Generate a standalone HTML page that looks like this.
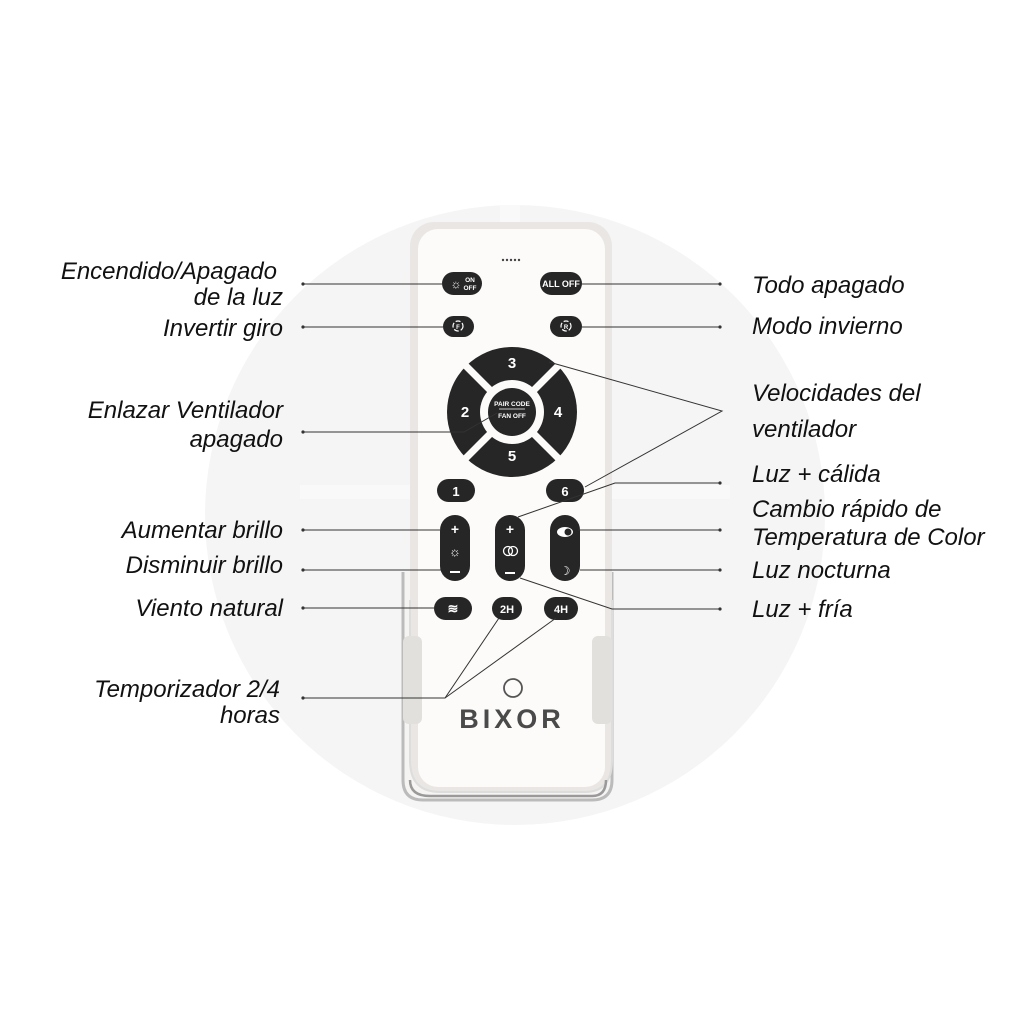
<!DOCTYPE html>
<html><head><meta charset="utf-8"><style>
html,body{margin:0;padding:0;background:#fff}
svg{display:block}
.l{font-family:"Liberation Sans",sans-serif;font-style:italic;font-size:24px;fill:#111}
.b{font-family:"Liberation Sans",sans-serif;font-weight:bold;fill:#fff}
</style></head><body>
<svg width="1024" height="1024" viewBox="0 0 1024 1024" xmlns="http://www.w3.org/2000/svg">
<rect width="1024" height="1024" fill="#fff"/>
<circle cx="515" cy="515" r="310" fill="#f5f5f5"/>
<rect x="500" y="205" width="20" height="90" fill="#f9f9f9"/>
<rect x="300" y="485" width="430" height="14" fill="#f9f9f9"/>
<path d="M403 572 V780 Q403 800 423 800 H592 Q612 800 612 780 V572" fill="#f6f4f2" stroke="#bbb" stroke-width="3"/>
<rect x="410" y="222" width="202" height="570" rx="24" fill="#e9e6e3"/>
<rect x="418" y="229" width="187" height="558" rx="20" fill="#fcfbfa"/>
<path d="M410 600 V760 Q410 792 440 792 H585 Q612 792 612 760 V600" fill="none" stroke="#ddd" stroke-width="2"/>
<rect x="403" y="636" width="19" height="88" rx="6" fill="#e2e0dd"/>
<rect x="592" y="636" width="20" height="88" rx="6" fill="#e2e0dd"/>
<path d="M410 780 Q410 796 430 796 H592 Q606 796 606 780" fill="none" stroke="#9a9a9a" stroke-width="2.5"/>
<g fill="#444"><circle cx="503" cy="260" r="1.2"/><circle cx="507" cy="260" r="1.2"/><circle cx="511" cy="260" r="1.2"/><circle cx="515" cy="260" r="1.2"/><circle cx="519" cy="260" r="1.2"/></g>
<g fill="#262626">
<rect x="442" y="272" width="40" height="23" rx="11.5"/>
<rect x="540" y="272" width="42" height="23" rx="11.5"/>
<rect x="443" y="316" width="31" height="21" rx="10.5"/>
<rect x="550" y="316" width="32" height="21" rx="10.5"/>
<rect x="437" y="479" width="38" height="23" rx="11.5"/>
<rect x="546" y="479" width="38" height="23" rx="11.5"/>
<rect x="440" y="515" width="30" height="66" rx="15"/>
<rect x="495" y="515" width="30" height="66" rx="15"/>
<rect x="550" y="515" width="30" height="66" rx="15"/>
<rect x="434" y="597" width="38" height="23" rx="11.5"/>
<rect x="492" y="597" width="30" height="23" rx="11.5"/>
<rect x="544" y="597" width="34" height="23" rx="11.5"/>
<circle cx="512" cy="412" r="65"/>
</g>
<circle cx="512" cy="412" r="32" fill="#fcfbfa"/>
<g stroke="#fcfbfa" stroke-width="7">
<line x1="460" y1="360" x2="564" y2="464"/><line x1="564" y1="360" x2="460" y2="464"/>
</g>
<circle cx="512" cy="412" r="24" fill="#262626"/>
<text class="b" x="512" y="368" font-size="15" text-anchor="middle">3</text>
<text class="b" x="512" y="461" font-size="15" text-anchor="middle">5</text>
<text class="b" x="465" y="417" font-size="15" text-anchor="middle">2</text>
<text class="b" x="558" y="417" font-size="15" text-anchor="middle">4</text>
<text class="b" x="512" y="406" font-size="6.5" text-anchor="middle">PAIR CODE</text>
<line x1="499" y1="409" x2="525" y2="409" stroke="#fff" stroke-width="0.8"/>
<text class="b" x="512" y="418" font-size="6.5" text-anchor="middle">FAN OFF</text>
<text class="b" x="456" y="496" font-size="13" text-anchor="middle">1</text>
<text class="b" x="565" y="496" font-size="13" text-anchor="middle">6</text>
<text class="b" x="561" y="287" font-size="9" text-anchor="middle">ALL OFF</text>
<text class="b" x="456" y="288" font-size="12" text-anchor="middle">☼</text>
<text class="b" x="470" y="282" font-size="6.5" text-anchor="middle">ON</text>
<text class="b" x="470" y="290" font-size="6.5" text-anchor="middle">OFF</text>
<circle cx="458" cy="326" r="5" fill="none" stroke="#fff" stroke-width="1.2" stroke-dasharray="5 2"/>
<text class="b" x="458" y="329" font-size="6" text-anchor="middle">F</text>
<circle cx="566" cy="326" r="5" fill="none" stroke="#fff" stroke-width="1.2" stroke-dasharray="5 2"/>
<text class="b" x="566" y="329" font-size="6" text-anchor="middle">R</text>
<text class="b" x="455" y="534" font-size="14" text-anchor="middle">+</text>
<text class="b" x="455" y="556" font-size="13" text-anchor="middle">☼</text>
<rect x="450" y="571" width="10" height="2" fill="#fff"/>
<text class="b" x="510" y="534" font-size="14" text-anchor="middle">+</text>
<circle cx="508" cy="551" r="4.5" fill="none" stroke="#fff" stroke-width="1.3"/>
<circle cx="513" cy="551" r="4.5" fill="none" stroke="#fff" stroke-width="1.3"/>
<rect x="505" y="572" width="10" height="2" fill="#fff"/>
<ellipse cx="565" cy="532" rx="8" ry="5" fill="#fff"/>
<circle cx="568" cy="532" r="3.5" fill="#262626"/>
<text x="565" y="575" font-size="12" text-anchor="middle" fill="#fff" font-family="DejaVu Sans">☽</text>
<text class="b" x="453" y="613" font-size="13" text-anchor="middle">≋</text>
<text class="b" x="507" y="613" font-size="11" text-anchor="middle">2H</text>
<text class="b" x="561" y="613" font-size="11" text-anchor="middle">4H</text>
<circle cx="513" cy="688" r="9" fill="none" stroke="#555" stroke-width="1.8"/>
<text x="512" y="728" font-family="Liberation Sans,sans-serif" font-weight="bold" font-size="27" letter-spacing="4" fill="#4a4a4a" text-anchor="middle">BIXOR</text>
<g stroke="#333" stroke-width="1" fill="none">
<line x1="303" y1="284" x2="443" y2="284"/>
<line x1="303" y1="327" x2="444" y2="327"/>
<polyline points="303,432 464,432 497,413"/>
<line x1="303" y1="530" x2="441" y2="530"/>
<line x1="303" y1="570" x2="441" y2="570"/>
<line x1="303" y1="608" x2="435" y2="608"/>
<polyline points="303,698 445,698 499,618"/>
<line x1="445" y1="698" x2="556" y2="618"/>
<line x1="581" y1="284" x2="720" y2="284"/>
<line x1="582" y1="327" x2="720" y2="327"/>
<polyline points="549,362 722,411 585,487"/>
<polyline points="518,517 615,483 720,483"/>
<line x1="578" y1="530" x2="720" y2="530"/>
<line x1="580" y1="570" x2="720" y2="570"/>
<polyline points="520,578 612,609 720,609"/>
</g>
<g fill="#333">
<circle cx="303" cy="284" r="1.6"/><circle cx="303" cy="327" r="1.6"/><circle cx="303" cy="432" r="1.6"/><circle cx="303" cy="530" r="1.6"/><circle cx="303" cy="570" r="1.6"/><circle cx="303" cy="608" r="1.6"/><circle cx="303" cy="698" r="1.6"/>
<circle cx="720" cy="284" r="1.6"/><circle cx="720" cy="327" r="1.6"/><circle cx="720" cy="483" r="1.6"/><circle cx="720" cy="530" r="1.6"/><circle cx="720" cy="570" r="1.6"/><circle cx="720" cy="609" r="1.6"/>
</g>
<g class="l" text-anchor="end">
<text x="277" y="279">Encendido/Apagado</text>
<text x="283" y="305">de la luz</text>
<text x="283" y="336">Invertir giro</text>
<text x="283" y="418">Enlazar Ventilador</text>
<text x="283" y="447">apagado</text>
<text x="283" y="538">Aumentar brillo</text>
<text x="283" y="573">Disminuir brillo</text>
<text x="283" y="616">Viento natural</text>
<text x="280" y="697">Temporizador 2/4</text>
<text x="280" y="723">horas</text>
</g>
<g class="l">
<text x="752" y="293">Todo apagado</text>
<text x="752" y="334">Modo invierno</text>
<text x="752" y="401">Velocidades del</text>
<text x="752" y="437">ventilador</text>
<text x="752" y="482">Luz + cálida</text>
<text x="752" y="517">Cambio rápido de</text>
<text x="752" y="545">Temperatura de Color</text>
<text x="752" y="578">Luz nocturna</text>
<text x="752" y="617">Luz + fría</text>
</g>
</svg>
</body></html>
